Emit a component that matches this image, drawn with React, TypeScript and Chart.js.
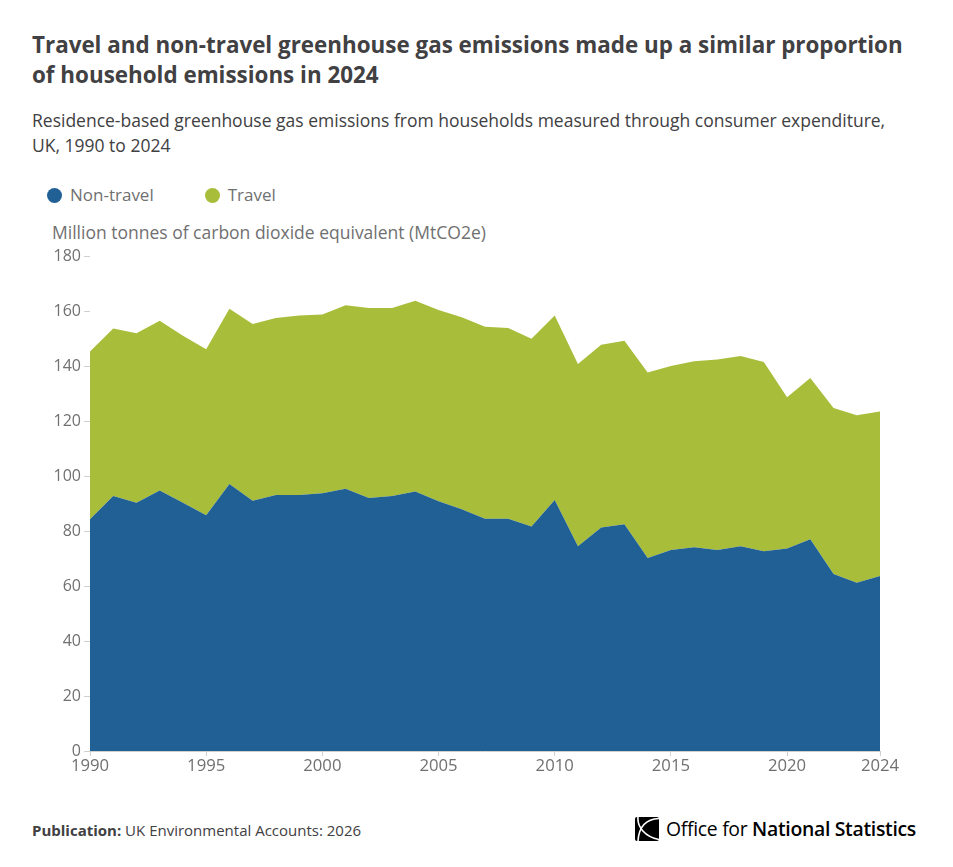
import React, { useEffect, useRef } from "react";
import { Chart, registerables } from "chart.js";

Chart.register(...registerables);

const years: number[] = [
  1990, 1991, 1992, 1993, 1994, 1995, 1996, 1997, 1998, 1999,
  2000, 2001, 2002, 2003, 2004, 2005, 2006, 2007, 2008, 2009,
  2010, 2011, 2012, 2013, 2014, 2015, 2016, 2017, 2018, 2019,
  2020, 2021, 2022, 2023, 2024,
];

const nonTravel: number[] = [
  84.3, 92.7, 90.3, 94.7, 90.3, 85.7, 97.1, 91.0, 93.1, 93.1,
  93.7, 95.4, 92.0, 92.7, 94.4, 90.8, 87.9, 84.5, 84.5, 81.6,
  91.3, 74.5, 81.3, 82.5, 70.2, 73.1, 74.1, 73.1, 74.5, 72.6,
  73.6, 77.0, 64.4, 61.2, 63.6,
];

const travel: number[] = [
  61.0, 60.9, 61.6, 61.8, 60.7, 60.4, 63.7, 64.3, 64.4, 65.3,
  65.0, 66.7, 69.1, 68.4, 69.3, 69.6, 69.8, 69.8, 69.3, 68.3,
  67.1, 66.2, 66.4, 66.7, 67.4, 66.9, 67.6, 69.3, 69.1, 68.9,
  55.0, 58.6, 60.3, 60.9, 59.9,
];

const xTickValues: number[] = [1990, 1995, 2000, 2005, 2010, 2015, 2020, 2024];

const BLUE = "#206095";
const GREEN = "#a8bd3a";
const AXIS_TEXT = "#707071";
const DARK_TEXT = "#414042";
const FONT = "'Open Sans', 'Noto Sans', sans-serif";

function OnsLogo() {
  return (
    <svg width="24" height="24" viewBox="0 0 24 24" style={{ display: "block" }}>
      <rect x="0" y="0" width="24" height="24" rx="2" fill="#000" />
      <path d="M24 1.5 C12 2 4 8 3 24" stroke="#fff" strokeWidth="1.6" fill="none" />
      <path d="M3 0 C2 10 10 20 24 22.5" stroke="#fff" strokeWidth="1.6" fill="none" />
    </svg>
  );
}

export default function App() {
  const canvasRef = useRef<HTMLCanvasElement | null>(null);

  useEffect(() => {
    document.body.style.margin = "0";
    const canvas = canvasRef.current;
    if (!canvas) return;
    const chart = new Chart(canvas, {
      type: "line",
      data: {
        datasets: [
          {
            label: "Non-travel",
            data: years.map((y, i) => ({ x: y, y: nonTravel[i] })),
            backgroundColor: BLUE,
            borderColor: BLUE,
            borderWidth: 0,
            pointRadius: 0,
            fill: "origin",
            tension: 0,
          },
          {
            label: "Travel",
            data: years.map((y, i) => ({ x: y, y: travel[i] })),
            backgroundColor: GREEN,
            borderColor: GREEN,
            borderWidth: 0,
            pointRadius: 0,
            fill: "-1",
            tension: 0,
          },
        ],
      },
      options: {
        animation: false,
        responsive: false,
        maintainAspectRatio: false,
        devicePixelRatio: 1,
        layout: { padding: { left: 0, right: 73, top: 16, bottom: 0 } },
        plugins: {
          legend: { display: false },
          tooltip: { enabled: false },
        },
        scales: {
          x: {
            type: "linear",
            min: 1990,
            max: 2024,
            afterBuildTicks: (scale: any) => {
              scale.ticks = xTickValues.map((v) => ({ value: v }));
            },
            afterFit: (scale: any) => {
              scale.height = 49;
            },
            ticks: {
              color: AXIS_TEXT,
              font: { family: FONT, size: 16.7 },
              padding: 0,
              maxRotation: 0,
              autoSkip: false,
              callback: (v: any) => String(v),
            },
            grid: {
              drawOnChartArea: false,
              drawTicks: true,
              tickLength: 5,
              color: "#d0d0d0",
            },
            border: { display: true, color: "#d0d0d0" },
          },
          y: {
            stacked: true,
            min: 0,
            max: 180,
            afterFit: (scale: any) => {
              scale.width = 90;
            },
            ticks: {
              stepSize: 20,
              color: AXIS_TEXT,
              font: { family: FONT, size: 16 },
              padding: 3,
            },
            grid: {
              drawOnChartArea: false,
              drawTicks: true,
              tickLength: 6,
              color: "#d0d0d0",
            },
            border: { display: false },
          },
        },
      },
    });
    return () => chart.destroy();
  }, []);

  return (
    <div
      style={{
        position: "relative",
        width: 953,
        height: 867,
        background: "#fff",
        fontFamily: FONT,
        overflow: "hidden",
      }}
    >
      <div
        style={{
          position: "absolute",
          left: 32,
          top: 30,
          width: 885,
          fontSize: 22.4,
          fontWeight: 700,
          lineHeight: "30px",
          color: DARK_TEXT,
        }}
      >
        Travel and non-travel greenhouse gas emissions made up a similar proportion of household emissions in 2024
      </div>
      <div
        style={{
          position: "absolute",
          left: 32,
          top: 108,
          width: 905,
          fontSize: 17.5,
          lineHeight: "25px",
          color: DARK_TEXT,
        }}
      >
        Residence-based greenhouse gas emissions from households measured through consumer expenditure,
        <br />
        UK, 1990 to 2024
      </div>
      <div
        style={{
          position: "absolute",
          left: 47,
          top: 184,
          display: "flex",
          alignItems: "center",
          fontSize: 17,
          color: AXIS_TEXT,
          lineHeight: "22px",
        }}
      >
        <span style={{ width: 15, height: 15, borderRadius: 8, background: BLUE, display: "inline-block", marginRight: 8 }} />
        <span style={{ marginRight: 51 }}>Non-travel</span>
        <span style={{ width: 15, height: 15, borderRadius: 8, background: GREEN, display: "inline-block", marginRight: 8 }} />
        <span>Travel</span>
      </div>
      <div
        style={{
          position: "absolute",
          left: 52,
          top: 221,
          fontSize: 17.5,
          color: AXIS_TEXT,
          lineHeight: "22px",
          whiteSpace: "nowrap",
        }}
      >
        Million tonnes of carbon dioxide equivalent (MtCO2e)
      </div>
      <canvas
        ref={canvasRef}
        width={953}
        height={560}
        style={{ position: "absolute", left: 0, top: 240, width: 953, height: 560 }}
      />
      <div
        style={{
          position: "absolute",
          left: 32,
          top: 820,
          fontSize: 15,
          color: DARK_TEXT,
          lineHeight: "20px",
          whiteSpace: "nowrap",
        }}
      >
        <b>Publication:</b> UK Environmental Accounts: 2026
      </div>
      <div
        style={{
          position: "absolute",
          left: 635,
          top: 816,
          display: "flex",
          alignItems: "center",
          whiteSpace: "nowrap",
          color: "#000",
          fontSize: 19.4,
          lineHeight: "26px",
        }}
      >
        <OnsLogo />
        <span style={{ marginLeft: 7, letterSpacing: -0.3 }}>
          Office for <b style={{ fontWeight: 600 }}>National Statistics</b>
        </span>
      </div>
    </div>
  );
}
